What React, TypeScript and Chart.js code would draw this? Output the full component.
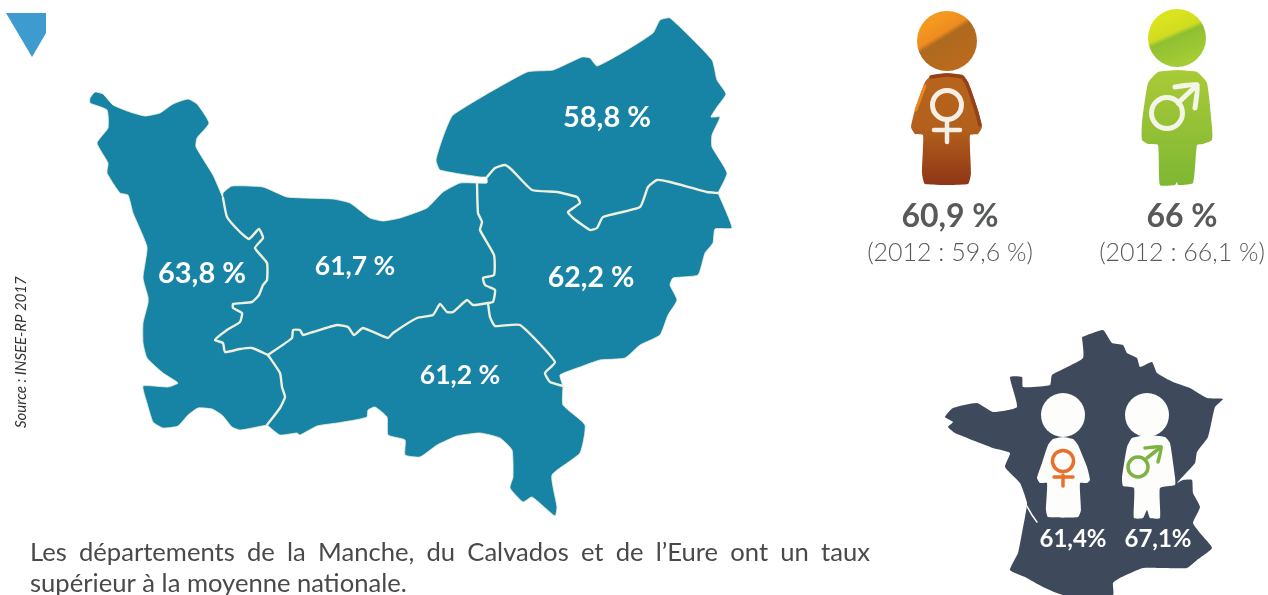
import React, { useEffect, useRef } from "react";
import { Chart, registerables } from "chart.js";

Chart.register(...registerables);

type P = [number, number];

// ---- Map borders (page units) ----
const coastSeine: P[] = [[487,177],[480,177],[440,170],[436,160],[443,137],[453,115],[527,72],[553,70],[582,57],[590,58],[597,66],[627,50],[653,33],[660,20],[670,18],[712,60],[717,80],[726,94],[717,107],[711,117],[720,117],[712,135],[712,147],[727,173],[718,193]];
const borderSeineEure: P[] = [[718,193],[707,192],[670,182],[657,180],[648,187],[640,207],[603,217],[597,228],[590,230],[573,218],[568,212],[580,203],[577,197],[557,192],[532,190],[512,170],[505,165],[495,168],[487,177]];
const coastEureStub: P[] = [[487,177],[487,183],[477,183]];
const borderCalvEure: P[] = [[477,183],[478,213],[482,222],[480,230],[494,255],[494,275],[483,278],[485,285],[495,290],[493,302],[488,303]];
const borderEureOrne: P[] = [[488,303],[490,317],[495,326],[520,325],[555,362],[545,373],[550,382],[563,386]];
const edgeEure: P[] = [[563,386],[560,375],[580,367],[600,360],[625,358],[640,345],[660,335],[668,315],[677,300],[670,285],[673,278],[698,275],[705,253],[713,243],[715,229],[732,228],[718,193]];
const borderCalvOrne: P[] = [[488,303],[473,305],[467,300],[453,312],[447,312],[440,304],[433,315],[417,318],[393,333],[388,338],[363,328],[354,335],[348,327],[337,325],[313,332],[303,335],[300,330],[293,330],[292,338],[268,355]];
const borderManCalv: P[] = [[223,198],[227,217],[240,232],[249,239],[259,229],[263,238],[255,248],[267,263],[267,280],[263,285],[259,295],[252,302],[233,304],[233,308],[242,313],[240,322],[227,330],[215,340],[223,343],[225,352],[240,349],[252,348],[268,355]];
const borderManOrne: P[] = [[268,355],[280,373],[282,387],[285,397],[280,408],[267,425]];
const coastCalv: P[] = [[223,198],[223,193],[232,186],[263,187],[287,197],[333,199],[350,203],[370,218],[383,221],[400,218],[427,208],[443,192],[460,183],[477,183]];
const coastOrne: P[] = [[563,386],[563,405],[585,425],[580,453],[552,475],[557,507],[555,516],[532,497],[523,502],[510,488],[513,477],[512,450],[500,438],[480,433],[457,436],[437,445],[420,457],[405,455],[405,440],[388,435],[387,417],[375,407],[368,410],[367,417],[355,420],[337,423],[317,426],[300,435],[297,433],[280,435],[267,425]];
const coastManche: P[] = [[267,425],[257,427],[240,430],[232,427],[222,415],[212,409],[198,408],[188,415],[178,426],[163,428],[153,422],[147,403],[143,386],[168,387],[178,383],[163,373],[147,358],[143,343],[143,323],[148,303],[148,297],[143,278],[147,247],[133,213],[128,195],[120,193],[107,173],[108,163],[97,143],[108,128],[107,110],[90,103],[90,98],[95,92],[103,94],[113,105],[130,112],[145,116],[160,113],[173,104],[188,99],[197,104],[209,123],[197,138],[196,147],[213,175],[223,198]];

// ---- France and figures ----
const franceOutline: P[] = [[1082,337],[1103,330],[1112,343],[1123,345],[1127,353],[1137,358],[1140,367],[1152,362],[1157,373],[1173,382],[1190,388],[1207,398],[1223,399],[1215,407],[1208,437],[1197,452],[1195,463],[1177,483],[1183,480],[1192,480],[1193,493],[1200,507],[1193,523],[1200,533],[1212,548],[1197,560],[1187,568],[1163,568],[1143,568],[1120,578],[1113,583],[1113,595],[1063,595],[1043,587],[1025,577],[1010,570],[1018,553],[1022,533],[1025,517],[1027,503],[1020,483],[1005,467],[1010,453],[993,448],[980,443],[955,433],[948,427],[953,422],[945,417],[953,408],[977,403],[993,412],[1017,407],[1010,377],[1022,377],[1023,387],[1050,385],[1052,375],[1083,358],[1082,337]];
const franceEstuary: P[] = [[1025,503],[1032,515],[1037,522]];

const womanBody: P[] = [[947,73],[963,75],[968,82],[978,110],[982,127],[978,134],[970,135],[971,173],[968,184],[925,184],[922,173],[923,135],[915,134],[911,127],[915,110],[925,82],[932,75],[947,73]];
const womanRim: P[] = [[931,77],[947,75],[962,77],[967,84],[976,110],[980,125]];
const womanGlow: P[] = [[925,86],[916,110]];
const manBody: P[] = [[1178,70],[1197,72],[1207,83],[1212,127],[1212,140],[1203,144],[1197,145],[1193,183],[1178,185],[1177,182],[1175,185],[1160,185],[1158,145],[1148,144],[1142,140],[1142,123],[1148,83],[1158,72],[1178,70]];
const womanBodyFr: P[] = [[1063,437],[1073,439],[1078,445],[1087,467],[1090,480],[1087,483],[1080,483],[1081,510],[1078,517],[1048,517],[1046,510],[1047,483],[1040,483],[1037,478],[1042,463],[1048,445],[1053,439],[1063,437]];
const manBodyFr: P[] = [[1147,435],[1165,437],[1170,443],[1175,477],[1175,485],[1160,488],[1160,518],[1150,518],[1147,510],[1143,518],[1134,518],[1134,488],[1123,486],[1122,478],[1127,447],[1132,438],[1147,435]];
const cornerMark: P[] = [[6,13],[46,13],[46,33],[32,57],[6,13]];

const femaleStem: P[] = [[947,122],[947,142]];
const femaleBar: P[] = [[934,130],[960,130]];
const maleShaft: P[] = [[1178,103],[1197,85]];
const maleHead: P[] = [[1175,87],[1197,85],[1195,108]];
const femaleStemFr: P[] = [[1063,475],[1063,486]];
const femaleBarFr: P[] = [[1054,477],[1073,477]];
const maleShaftFr: P[] = [[1147,458],[1161,447]];
const maleHeadFr: P[] = [[1145,448],[1161,447],[1158,462]];

// ---- Labels ----
const mapLabels = ["58,8 %", "63,8 %", "61,7 %", "62,2 %", "61,2 %"];
const mapLabelAt: P[] = [[607,127],[202,283],[355,275],[591,287],[460,384]];
const mapLabelSize = [29, 29, 26.5, 28.5, 26.5];
const genderRates = ["60,9 %", "66 %"];
const genderPrior = ["(2012 : 59,6 %)", "(2012 : 66,1 %)"];
const genderX = [950, 1182];
const franceRates = ["61,4%", "67,1%"];
const franceX = [1073, 1158];
const sourceText = "Source : INSEE-RP 2017";
const captionLine1 = "Les départements de la Manche, du Calvados et de l’Eure ont un taux";
const captionLine2 = "supérieur à la moyenne nationale.";

const FILL = "#1784a5";
const EDGE = "#eef0dc";
const PAGE_W = 1268;
const PAGE_H = 595;
const pts = (a: P[]) => a.map(([x, y]) => ({ x, y }));
const join = (...parts: P[][]) => parts.flat();

const shape = (data: P[], backgroundColor: any, borderColor: any = "transparent", borderWidth = 0, tension = 0.15) => ({
  data: pts(data), showLine: true, fill: "shape", backgroundColor, borderColor, borderWidth,
  pointRadius: 0, tension,
});
const stroke = (data: P[], borderColor: string, borderWidth: number) => ({
  data: pts(data), showLine: true, fill: false, borderColor, borderWidth,
  pointRadius: 0, tension: 0.15, borderCapStyle: "round", borderJoinStyle: "round",
});
const dot = (c: P, r: number, bg: any, border = "transparent", bw = 0) => ({
  data: pts([c]), showLine: false, pointRadius: r, pointBackgroundColor: bg,
  pointBorderColor: border, pointBorderWidth: bw, backgroundColor: bg,
});

const linear = (x0: number, y0: number, x1: number, y1: number, stops: [number, string][]) => (c: any) => {
  const sx = c.chart.width / PAGE_W;
  const sy = c.chart.height / PAGE_H;
  const g = c.chart.ctx.createLinearGradient(x0 * sx, y0 * sy, x1 * sx, y1 * sy);
  stops.forEach(([o, col]) => g.addColorStop(o, col));
  return g;
};

const textPlugin = {
  id: "texts",
  afterDatasetsDraw(chart: any) {
    const { ctx, scales: { x, y } } = chart;
    const put = (s: string, px: number, py: number, font: string, color: string, align: CanvasTextAlign = "center") => {
      ctx.font = font; ctx.fillStyle = color; ctx.textAlign = align; ctx.textBaseline = "alphabetic";
      ctx.fillText(s, x.getPixelForValue(px), y.getPixelForValue(py));
    };
    ctx.save();
    mapLabels.forEach((s, i) => put(s, mapLabelAt[i][0], mapLabelAt[i][1], `700 ${mapLabelSize[i]}px Lato`, "#ffffff"));
    genderRates.forEach((s, i) => put(s, genderX[i], 227, "700 32px Lato", "#58595b"));
    genderPrior.forEach((s, i) => put(s, genderX[i], 261, "300 25px Lato", "#58595b"));
    franceRates.forEach((s, i) => put(s, franceX[i], 547, "700 24px Lato", "#ffffff"));

    // justified first caption line
    const f = "400 25.6px Lato";
    ctx.font = f;
    const words = captionLine1.split(" ");
    const total = words.reduce((a, w) => a + ctx.measureText(w).width, 0);
    const gap = (870 - 30 - total) / (words.length - 1);
    let cx = 30;
    words.forEach((w) => { put(w, cx, 561, f, "#48494b", "left"); cx += ctx.measureText(w).width + gap; });
    put(captionLine2, 30, 592, f, "#48494b", "left");

    ctx.translate(x.getPixelForValue(26), y.getPixelForValue(428));
    ctx.rotate(-Math.PI / 2);
    ctx.font = "italic 400 15px Lato"; ctx.fillStyle = "#333333"; ctx.textAlign = "left";
    ctx.fillText(sourceText, 0, 0);
    ctx.restore();
  },
};

export default function App() {
  const ref = useRef<HTMLCanvasElement>(null);
  useEffect(() => {
    document.body.style.margin = "0";
    const datasets: any[] = [
      shape(cornerMark, "#3d9bd0", "transparent", 0, 0),
      shape(join(coastSeine, borderSeineEure), FILL, EDGE, 0.8),
      shape(join(coastEureStub, borderCalvEure, borderEureOrne, edgeEure, borderSeineEure), FILL, EDGE, 0.8),
      shape(join(coastCalv, borderCalvEure, borderCalvOrne, [...borderManCalv].reverse()), FILL, EDGE, 0.8),
      shape(join([...borderCalvOrne].reverse(), borderEureOrne, coastOrne, [...borderManOrne].reverse()), FILL, EDGE, 0.8),
      shape(join(borderManCalv, borderManOrne, coastManche), FILL, EDGE, 0.8),
      stroke(borderSeineEure, EDGE, 2.4),
      stroke(borderCalvEure, EDGE, 2.4),
      stroke(borderEureOrne, EDGE, 2.4),
      stroke(borderCalvOrne, EDGE, 2.4),
      stroke(borderManCalv, EDGE, 2.4),
      stroke(borderManOrne, EDGE, 2.4),
      shape(womanBody, linear(947, 73, 947, 184, [[0, "#b8641c"], [0.5, "#b2601c"], [1, "#8f3717"]])),
      stroke(womanRim, "#94411a", 3.5),
      stroke(womanGlow, "#e9851f", 3),
      dot([947, 41], 30, linear(934, 22, 964, 71, [[0, "#f5981f"], [0.24, "#ee8c1f"], [0.33, "#ad6a20"], [1, "#bf6a1c"]])),
      dot([947, 105], 14.5, "transparent", "#f6efe6", 5),
      stroke(femaleStem, "#f6efe6", 4.5),
      stroke(femaleBar, "#f6efe6", 4.5),
      shape(manBody, linear(1177, 70, 1177, 185, [[0, "#a9ca38"], [1, "#7fb733"]])),
      dot([1177, 38], 29, linear(1170, 17, 1191, 66, [[0, "#dbe31f"], [0.29, "#d0dc22"], [0.38, "#8fbf32"], [1, "#a9d034"]])),
      dot([1167, 113], 15.5, "transparent", "#f3f6e6", 5),
      stroke(maleShaft, "#f3f6e6", 5),
      stroke(maleHead, "#f3f6e6", 5),
      shape(franceOutline, "#3e4a5c"),
      stroke(franceEstuary, "#ffffff", 1.5),
      dot([1063, 415], 22, "#fdfdfc"),
      shape(womanBodyFr, "#fdfdfc"),
      dot([1063, 461], 10.5, "transparent", "#e8702a", 3.5),
      stroke(femaleStemFr, "#e8702a", 3.5),
      stroke(femaleBarFr, "#e8702a", 3.5),
      dot([1147, 415], 22, "#fdfdfc"),
      shape(manBodyFr, "#fdfdfc"),
      dot([1138, 467], 10, "transparent", "#7cb342", 3.5),
      stroke(maleShaftFr, "#7cb342", 3.5),
      stroke(maleHeadFr, "#7cb342", 3.5),
    ];
    datasets.forEach((d, i) => { d.order = datasets.length - i; d.clip = false; });
    const chart = new Chart(ref.current as HTMLCanvasElement, {
      type: "scatter",
      data: { datasets },
      options: {
        animation: false,
        responsive: false,
        events: [],
        layout: { padding: 0, autoPadding: false },
        plugins: { legend: { display: false }, tooltip: { enabled: false } },
        scales: {
          x: { type: "linear", min: 0, max: PAGE_W, display: false },
          y: { type: "linear", min: 0, max: PAGE_H, reverse: true, display: false },
        },
      },
      plugins: [textPlugin],
    } as any);
    return () => chart.destroy();
  }, []);
  return <canvas ref={ref} width={PAGE_W} height={PAGE_H} style={{ display: "block" }} />;
}
